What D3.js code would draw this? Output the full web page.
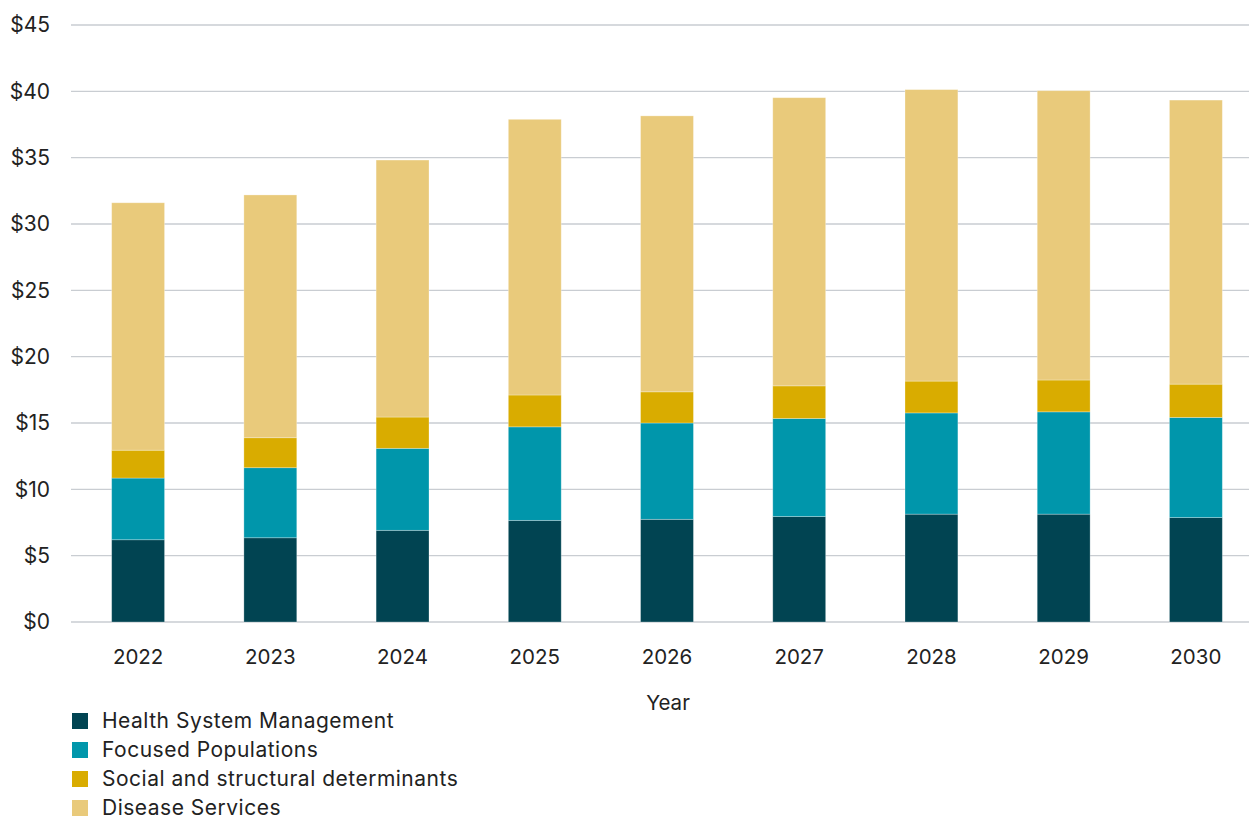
<!DOCTYPE html>
<html><head><meta charset="utf-8">
<script src="https://cdn.jsdelivr.net/npm/d3@7"></script>
<style>body{margin:0;background:#fff;font-family:Inter,"Noto Sans",sans-serif;}svg{display:block}</style>
</head><body><svg id="c" width="1249" height="816"></svg>
<script>
const years = ["2022","2023","2024","2025","2026","2027","2028","2029","2030"];
const seriesNames = ["Health System Management","Focused Populations","Social and structural determinants","Disease Services"];
const healthSystem = [6.2, 6.35, 6.91, 7.66, 7.74, 7.95, 8.13, 8.13, 7.87];
const focusedPop   = [4.65, 5.28, 6.18, 7.05, 7.26, 7.39, 7.63, 7.71, 7.55];
const socialDet    = [2.1, 2.26, 2.36, 2.40, 2.35, 2.46, 2.40, 2.40, 2.51];
const diseaseSvc   = [18.65, 18.3, 19.37, 20.78, 20.8, 21.72, 21.97, 21.81, 21.41];
const yTicks = [0,5,10,15,20,25,30,35,40,45];
const colors = ["#014452","#0096AB","#D9AC00","#E9CA7B"];

const svg = d3.select("#c");
const rows = years.map((y,i)=>({year:y, s0:healthSystem[i], s1:focusedPop[i], s2:socialDet[i], s3:diseaseSvc[i]}));
const stack = d3.stack().keys(["s0","s1","s2","s3"])(rows);

const x = d3.scaleBand().domain(years).range([72,1262]).paddingInner(0.6).paddingOuter(0.3);
const y = d3.scaleLinear().domain([0,45]).range([622,25]);

svg.append("g").selectAll("line").data(yTicks).join("line")
  .attr("x1",71).attr("x2",1249)
  .attr("y1",d=>y(d)).attr("y2",d=>y(d))
  .attr("stroke","#c9cdd2").attr("stroke-width",1.3);

svg.append("g").selectAll("text").data(yTicks).join("text")
  .attr("x",50).attr("y",d=>y(d)).attr("dy","0.35em")
  .attr("text-anchor","end").attr("font-size",21).attr("fill","#222")
  .text(d=>"$"+d);

svg.append("g").selectAll("g").data(stack).join("g")
  .attr("fill",(d,i)=>colors[i])
  .selectAll("rect").data(d=>d).join("rect")
  .attr("x",d=>x(d.data.year)).attr("width",x.bandwidth())
  .attr("y",d=>y(d[1])).attr("height",d=>y(d[0])-y(d[1]))
  .attr("stroke","#ffffff").attr("stroke-opacity",0.35).attr("stroke-width",0.8);

svg.append("g").selectAll("text").data(years).join("text")
  .attr("x",d=>x(d)+x.bandwidth()/2).attr("y",664)
  .attr("text-anchor","middle").attr("font-size",20.5).attr("fill","#222")
  .text(d=>d);

svg.append("text").attr("x",668).attr("y",710).attr("text-anchor","middle")
  .attr("font-size",20.5).attr("fill","#222").text("Year");

const lg = svg.append("g").selectAll("g").data(seriesNames).join("g")
  .attr("transform",(d,i)=>`translate(72,${713+i*29})`);
lg.append("rect").attr("width",16).attr("height",16).attr("fill",(d,i)=>colors[i]);
lg.append("text").attr("x",30).attr("y",8).attr("dy","0.35em")
  .attr("font-size",21).attr("letter-spacing",0.5).attr("fill","#222").text(d=>d);
</script></body></html>
